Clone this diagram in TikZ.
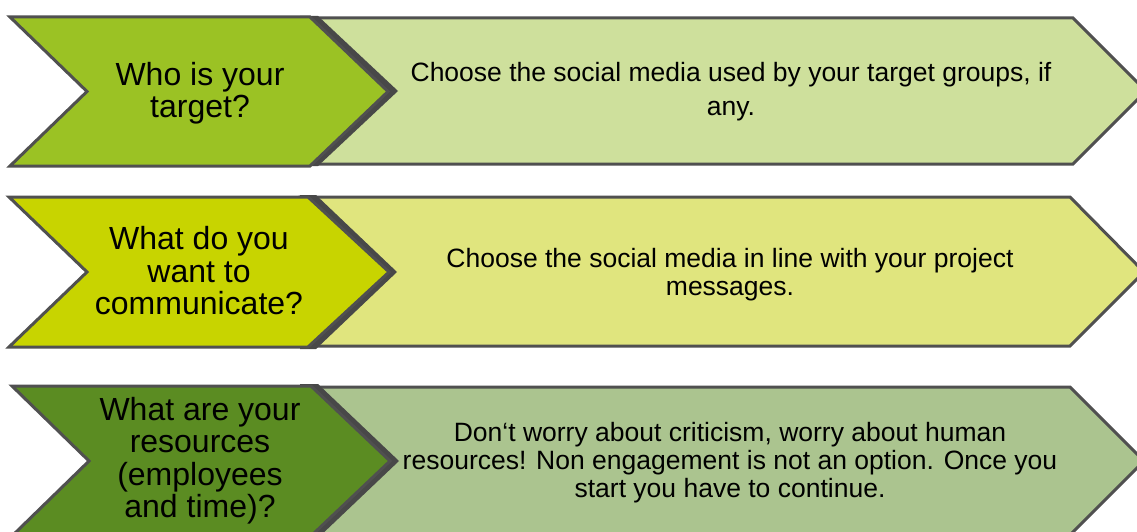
\documentclass[tikz,border=0pt]{standalone}
\usepackage{fontspec}
\setmainfont{Liberation Sans}
\usepackage{tikz}
\definecolor{edge}{RGB}{80,80,80}
\definecolor{targetdark}{RGB}{155,194,36}
\definecolor{targetlight}{RGB}{206,224,156}
\definecolor{messagedark}{RGB}{200,212,0}
\definecolor{messagelight}{RGB}{224,229,126}
\definecolor{resourcedark}{RGB}{91,140,34}
\definecolor{resourcelight}{RGB}{171,196,143}
\tikzset{
    x=1pt, y=-1pt, % one unit is one pixel of the reference, y runs downwards
    question/.style={draw=edge, line width=3pt, line join=miter}, % the dark chevron on the left
    shadow/.style={fill=edge!90!black}, % dark band to the right of each chevron
    answer/.style={draw=edge, line width=3pt, line join=miter}, % the long pale arrow
    qtext/.style={align=center, font=\fontsize{32}{32.5}\selectfont}, % text in the chevrons
    atext/.style={align=center, font=\fontsize{26.5}{28}\selectfont}, % text in the pale arrows
}
\begin{document}
\begin{tikzpicture}
    \useasboundingbox (0,0) rectangle (1137,532);
    \clip (0,0) rectangle (1137,532);
    % who is your target
    \draw[answer, fill=targetlight] (300,18) -- (1073,18) -- (1146,91) -- (1073,164) -- (300,164) -- cycle;
    \fill[shadow] (318,16) -- (398,91) -- (318,166) -- (300,166) -- (300,16) -- cycle;
    \draw[question, fill=targetdark] (10,17) -- (310,17) -- (388,91.5) -- (310,166) -- (10,166) -- (87,91.5) -- cycle;
    \node[qtext] (q1) at (200,93) {Who is your\\target?};
    \node[atext] (a1) at (731,92) {Choose the social media used by your target groups, if\\[6pt]any.};
    % what do you want to communicate
    \draw[answer, fill=messagelight] (300,197) -- (1070,197) -- (1144,272) -- (1070,346) -- (300,346) -- cycle;
    \fill[shadow] (316,195) -- (397,272) -- (316,349) -- (300,349) -- (300,195) -- cycle;
    \draw[question, fill=messagedark] (9,197) -- (308,197) -- (389,272) -- (308,347) -- (9,347) -- (87,272) -- cycle;
    \node[qtext] (q2) at (199,271) {What do you\\want to\\communicate?};
    \node[atext] (a2) at (730,275) {Choose the social media in line with your project\\messages.};
    % what are your resources
    \draw[answer, fill=resourcelight] (300,387) -- (1070,387) -- (1144,461) -- (1070,535) -- (300,535) -- cycle;
    \fill[shadow] (318,384) -- (399,461) -- (318,538) -- (300,538) -- (300,384) -- cycle;
    \draw[question, fill=resourcedark] (12,386) -- (311,386) -- (390,461) -- (311,536) -- (12,536) -- (89,461) -- cycle;
    \node[qtext] (q3) at (200,460.5) {What are your\\resources\\(employees\\and time)?};
    \node[atext] (a3) at (730,463) {Don‘t worry about criticism, worry about human\\resources! Non engagement is not an option. Once you\\start you have to continue.};
\end{tikzpicture}
\end{document}
